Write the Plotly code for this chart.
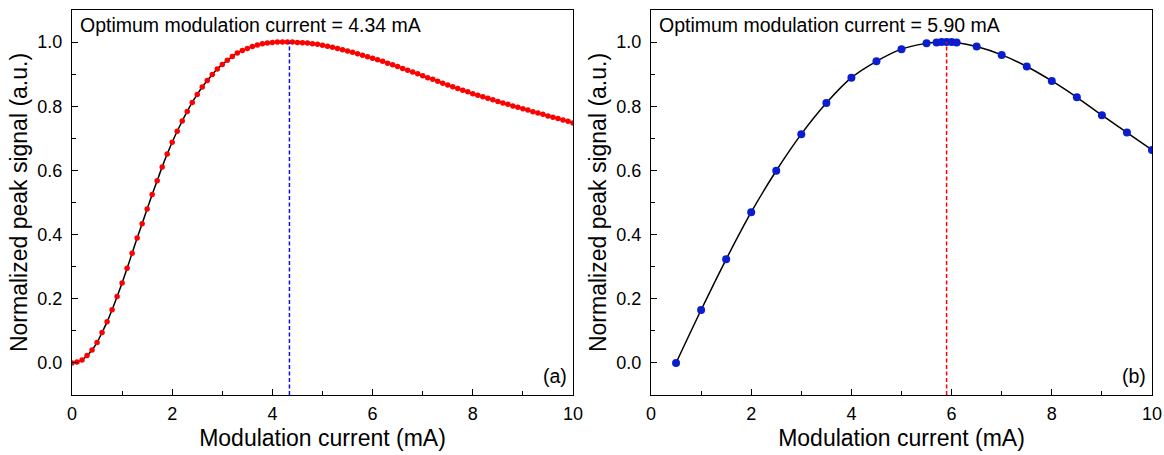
import plotly.graph_objects as go

# ---------------- data ----------------
# Panel (a): simulated peak signal vs modulation current (0.1 mA grid)
current_a = [round(i * 0.1, 1) for i in range(101)]
signal_a = [
    0.000, 0.003, 0.009, 0.023, 0.040, 0.064, 0.095, 0.128, 0.166, 0.207,
    0.249, 0.295, 0.342, 0.389, 0.434, 0.480, 0.525, 0.568, 0.611, 0.651,
    0.688, 0.722, 0.754, 0.784, 0.812, 0.837, 0.860, 0.880, 0.899, 0.916,
    0.930, 0.943, 0.955, 0.966, 0.974, 0.980, 0.986, 0.991, 0.995, 0.997,
    0.999, 1.000, 1.000, 1.000, 1.000, 0.999, 0.998, 0.997, 0.995, 0.993,
    0.990, 0.987, 0.984, 0.980, 0.976, 0.972, 0.968, 0.964, 0.959, 0.954,
    0.950, 0.945, 0.940, 0.934, 0.929, 0.924, 0.918, 0.912, 0.907, 0.901,
    0.895, 0.889, 0.884, 0.878, 0.872, 0.866, 0.861, 0.855, 0.850, 0.845,
    0.839, 0.834, 0.830, 0.825, 0.820, 0.815, 0.810, 0.806, 0.801, 0.797,
    0.792, 0.788, 0.783, 0.779, 0.775, 0.770, 0.766, 0.762, 0.757, 0.753,
    0.748,
]
optimum_a = 4.34

# Panel (b): measured peak signal vs modulation current
current_b = [0.5, 1.0, 1.5, 2.0, 2.5, 3.0, 3.5, 4.0, 4.5, 5.0, 5.5, 5.7, 5.8,
             5.9, 6.0, 6.1, 6.5, 7.0, 7.5, 8.0, 8.5, 9.0, 9.5, 10.0]
signal_b = [0.000, 0.165, 0.323, 0.470, 0.599, 0.713, 0.810, 0.889, 0.940,
            0.978, 0.996, 0.999, 1.000, 1.000, 1.000, 0.999, 0.986, 0.960,
            0.924, 0.879, 0.828, 0.772, 0.718, 0.664]
optimum_b = 5.90

y_range = [-0.1, 1.1]
x_range = [0, 10]
y_ticks = [0.0, 0.2, 0.4, 0.6, 0.8, 1.0]
y_minor = [-0.1, 0.1, 0.3, 0.5, 0.7, 0.9]
x_ticks = [0, 2, 4, 6, 8, 10]

FONT = "Liberation Sans, Arial, sans-serif"

fig = go.Figure()

# Panel (a)
fig.add_trace(go.Scatter(x=current_a, y=signal_a, mode="lines",
                         line=dict(color="black", width=1.5, shape="spline"),
                         xaxis="x", yaxis="y", showlegend=False))
fig.add_trace(go.Scatter(x=current_a, y=signal_a, mode="markers",
                         marker=dict(color="#FF0000", size=5.5),
                         xaxis="x", yaxis="y", showlegend=False))
fig.add_trace(go.Scatter(x=[optimum_a, optimum_a], y=[y_range[0], 1.0], mode="lines",
                         line=dict(color="#1010E0", width=1.5, dash="4px,2.5px"),
                         xaxis="x", yaxis="y", showlegend=False))

# Panel (b)
fig.add_trace(go.Scatter(x=current_b, y=signal_b, mode="lines",
                         line=dict(color="black", width=1.5, shape="spline"),
                         xaxis="x2", yaxis="y2", showlegend=False))
fig.add_trace(go.Scatter(x=current_b, y=signal_b, mode="markers",
                         marker=dict(color="#0A1ECF", size=8),
                         xaxis="x2", yaxis="y2", showlegend=False))
fig.add_trace(go.Scatter(x=[optimum_b, optimum_b], y=[y_range[0], 1.0], mode="lines",
                         line=dict(color="#FF0000", width=1.5, dash="4px,2.5px"),
                         xaxis="x2", yaxis="y2", showlegend=False))

W, H = 1164, 455

def axis_style():
    return dict(
        showline=True, linecolor="black", linewidth=1.4, mirror=True,
        ticks="inside", ticklen=6, tickwidth=1.4, tickcolor="black",
        showgrid=False, zeroline=False,
        tickfont=dict(family=FONT, size=18, color="black"),
        automargin=False,
    )

def xaxis_style():
    d = axis_style()
    d.update(range=x_range, tickvals=x_ticks, ticklabelstandoff=2,
             minor=dict(ticks="inside", ticklen=3.5, tickwidth=1.3,
                        tickcolor="black", dtick=1),
             title=dict(text="Modulation current (mA)",
                        font=dict(family=FONT, size=23, color="black"),
                        standoff=7))
    return d

def yaxis_style():
    d = axis_style()
    d.update(range=y_range, tickvals=y_ticks, tickformat=".1f", ticklabelstandoff=5,
             minor=dict(ticks="inside", ticklen=3.5, tickwidth=1.3,
                        tickcolor="black", tickvals=y_minor),
             title=dict(text="Normalized peak signal (a.u.)",
                        font=dict(family=FONT, size=23, color="black"),
                        standoff=3))
    return d

ann_font = dict(family=FONT, size=19.5, color="black")

fig.update_layout(
    width=W, height=H,
    margin=dict(l=0, r=0, t=10, b=60),
    paper_bgcolor="white", plot_bgcolor="white",
    font=dict(family=FONT, color="black"),
    xaxis=dict(xaxis_style(), domain=[72 / W, 573 / W], anchor="y"),
    yaxis=dict(yaxis_style(), domain=[0, 1], anchor="x"),
    xaxis2=dict(xaxis_style(), domain=[651 / W, 1152 / W], anchor="y2"),
    yaxis2=dict(yaxis_style(), domain=[0, 1], anchor="x2"),
    annotations=[
        dict(text="Optimum modulation current = %.2f mA" % optimum_a,
             xref="x domain", yref="y domain", x=0, y=1, xanchor="left", yanchor="top",
             xshift=6, yshift=-2, showarrow=False, font=ann_font),
        dict(text="(a)", xref="x domain", yref="y domain", x=1, y=0,
             xanchor="right", yanchor="bottom", xshift=-4, yshift=6, showarrow=False,
             font=ann_font),
        dict(text="Optimum modulation current = %.2f mA" % optimum_b,
             xref="x2 domain", yref="y2 domain", x=0, y=1, xanchor="left", yanchor="top",
             xshift=6, yshift=-2, showarrow=False, font=ann_font),
        dict(text="(b)", xref="x2 domain", yref="y2 domain", x=1, y=0,
             xanchor="right", yanchor="bottom", xshift=-4, yshift=6, showarrow=False,
             font=ann_font),
    ],
)

fig.write_html("out.html", config={"displayModeBar": False},
               post_script="document.body.style.margin='0';document.body.style.overflow='hidden';")
